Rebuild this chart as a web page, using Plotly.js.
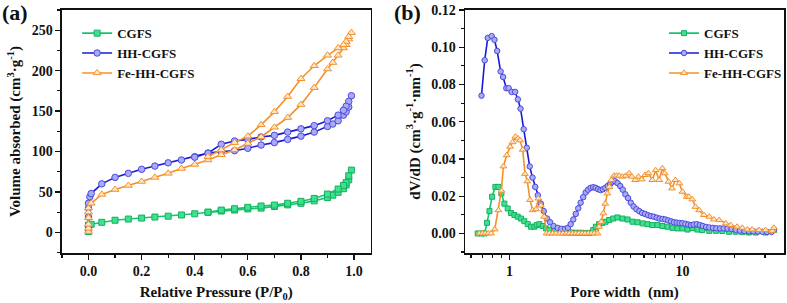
<!DOCTYPE html>
<html><head><meta charset="utf-8">
<script src="https://cdn.plot.ly/plotly-3.0.1.min.js"></script>
<style>html,body{margin:0;padding:0;background:#fff}#c{width:787px;height:303px}</style>
</head><body><div id="c"></div>
<script>
// ---- Panel (a): N2 isotherms (adsorption then desorption) ----
const cgfsP = [0,0,0,0,0.01,0.05,0.1,0.15,0.2,0.25,0.3,0.35,0.4,0.45,0.5,0.55,0.6,0.65,0.7,0.75,0.8,0.85,0.9,0.92,0.94,0.96,0.97,0.98,0.99,0.98,0.97,0.96,0.94,0.9,0.85,0.8,0.75,0.7,0.65,0.6,0.55,0.5,0.45];
const cgfsV = [1,4,7,9,10,12.4,15,16.5,17.7,19,20,21.5,23,24.8,26.4,27.6,29,30,32,34,36,39,43,46,49.5,54,58.6,65,77,70,61.5,58,53.6,47.4,42,38.4,36,33.8,32.6,31,29.3,27.6,25];
const hhP = [0,0,0,0,0.005,0.01,0.05,0.1,0.15,0.2,0.25,0.3,0.35,0.4,0.45,0.5,0.55,0.6,0.65,0.7,0.75,0.8,0.85,0.9,0.92,0.94,0.96,0.97,0.98,0.99,0.98,0.97,0.96,0.94,0.9,0.85,0.8,0.75,0.7,0.65,0.6,0.55,0.5,0.45,0.4];
const hhV = [7,19,30,36,44,48,60,68,73,78,82,86,89.5,93.6,98,100,101,104,108,111,115,119,124,131,134,138,145,149,155,169,162,156,151,145,138,132,128,124,120,118,115,113,109,98,93];
const feP = [0,0,0,0,0,0,0.01,0.05,0.1,0.15,0.2,0.25,0.3,0.35,0.4,0.45,0.5,0.55,0.6,0.65,0.7,0.75,0.8,0.85,0.9,0.92,0.94,0.96,0.97,0.98,0.99,0.98,0.97,0.96,0.94,0.9,0.85,0.8,0.75,0.7,0.65,0.6,0.55,0.5,0.45];
const feV = [1,5,10,18,25,30,36,47,53,58,63,68,73,79,84,89.5,96,102,110,118,130,142,158,179,202,210,219,228,232,239,247,242,236,232,228,219,206,190,168,149,133,119,111,102,93.6];

// ---- Panel (b): pore size distributions ----
const cgfsW = [0.656,0.69,0.718,0.743,0.767,0.794,0.83,0.864,0.899,0.936,0.978,1.022,1.069,1.117,1.168,1.22,1.276,1.334,1.394,1.44,1.49,1.56,1.63,1.70,1.82,1.94,2.05,2.17,2.29,2.42,2.56,2.7,2.9,3.05,3.16,3.3,3.45,3.6,3.77,3.98,4.21,4.5,4.82,5.15,5.5,5.9,6.28,6.7,7.17,7.66,8.19,8.76,9.36,10.0,10.7,11.4,12.2,13.0,14.3,15.6,17.0,18.6,20.3,22.2,24.2,26.5,30.2,33.8];
const cgfsD = [0,0,0,0.0057,0.012,0.0197,0.025,0.025,0.0215,0.016,0.0134,0.011,0.0099,0.009,0.008,0.0066,0.005,0.0036,0.0036,0.0045,0.005,0.004,0.0027,0.0018,0.0013,0.0009,0.0006,0.0005,0.0005,0.0004,0.0004,0.0003,0.0003,0.0018,0.0036,0.005,0.0057,0.0063,0.0072,0.008,0.0086,0.008,0.0075,0.0063,0.006,0.0054,0.005,0.0045,0.0045,0.004,0.0036,0.003,0.0027,0.0027,0.0021,0.0029,0.0021,0.0018,0.0014,0.0014,0.0013,0.0009,0.0009,0.0007,0.0005,0.0005,0.0005,0.0018];
const hhW = [0.69,0.72,0.75,0.79,0.82,0.85,0.89,0.92,0.96,0.99,1.03,1.08,1.12,1.16,1.21,1.26,1.31,1.36,1.41,1.46,1.52,1.58,1.65,1.72,1.80,1.90,2.0,2.1,2.18,2.26,2.34,2.42,2.5,2.58,2.67,2.76,2.85,2.95,3.05,3.15,3.25,3.36,3.47,3.58,3.7,3.82,3.95,4.08,4.22,4.37,4.52,4.68,4.85,5.03,5.22,5.42,5.63,5.85,6.08,6.32,6.57,6.83,7.1,7.38,7.67,7.97,8.28,8.6,8.93,9.27,9.62,9.98,10.4,10.8,11.2,11.6,12.1,12.6,13.1,13.7,14.3,15.0,15.7,16.5,17.3,18.2,19.2,20.3,21.5,22.8,24.2,25.7,27.3,29.0,30.8,32.7,33.8];
const hhD = [0.074,0.093,0.105,0.106,0.104,0.098,0.087,0.084,0.078,0.078,0.076,0.076,0.072,0.067,0.056,0.046,0.036,0.030,0.025,0.0205,0.016,0.012,0.008,0.006,0.004,0.003,0.0025,0.0025,0.003,0.005,0.0075,0.0105,0.0135,0.0165,0.0195,0.022,0.0235,0.0245,0.0248,0.0245,0.0238,0.0233,0.0237,0.0245,0.0255,0.0265,0.0278,0.028,0.027,0.0255,0.0235,0.021,0.019,0.0165,0.0145,0.013,0.012,0.011,0.0105,0.0098,0.0093,0.009,0.0085,0.008,0.0078,0.0075,0.007,0.0065,0.006,0.0058,0.0056,0.0055,0.0052,0.0048,0.0045,0.0048,0.005,0.0045,0.004,0.0035,0.0032,0.003,0.0028,0.0027,0.0027,0.0026,0.0024,0.002,0.0015,0.0013,0.0012,0.0011,0.001,0.0009,0.0008,0.0008,0.002];
const feW = [0.671,0.699,0.727,0.755,0.784,0.823,0.864,0.899,0.923,0.965,1.009,1.045,1.083,1.122,1.152,1.194,1.231,1.27,1.316,1.363,1.425,1.47,1.52,1.59,1.64,1.7,1.78,1.86,1.95,2.04,2.13,2.22,2.32,2.42,2.52,2.63,2.74,2.86,2.98,3.1,3.23,3.3,3.39,3.49,3.58,3.68,3.78,3.88,4.02,4.16,4.31,4.5,4.7,4.92,5.1,5.33,5.57,5.82,6.08,6.36,6.7,7.0,7.33,7.66,7.9,8.3,8.7,9.1,9.6,10.0,10.6,10.9,11.4,11.9,12.5,13.3,14.3,15.2,16.3,17.8,19.0,20.7,22.2,23.7,25.3,27.7,30.2,33.0,33.8];
const feD = [0,0,0,0,0,0.0022,0.0125,0.023,0.036,0.042,0.0466,0.049,0.052,0.051,0.050,0.045,0.032,0.028,0.018,0.0125,0.013,0.0188,0.015,0.009,0,0,0,0,0,0,0,0,0,0,0,0,0,0,0,0,0,0.0036,0.0063,0.0108,0.016,0.0215,0.025,0.0287,0.031,0.031,0.031,0.0305,0.031,0.0323,0.0305,0.0287,0.0305,0.029,0.0314,0.0323,0.0287,0.034,0.0287,0.035,0.0323,0.0278,0.0242,0.0287,0.0269,0.0224,0.0197,0.0197,0.0183,0.0143,0.0125,0.0099,0.009,0.0075,0.0072,0.0054,0.0045,0.0036,0.003,0.0021,0.0021,0.0018,0.0018,0.0014,0.003];

const names = ['CGFS','HH-CGFS','Fe-HH-CGFS'];
const F = 'Liberation Serif, Times New Roman, serif';
const green = {line:'#19c46e', fill:'#3fe08e', edge:'#14b062', sym:'square'};
const blue = {line:'#1a1ad6', fill:'#a9a9f4', edge:'#4a4ae0', sym:'circle'};
const orange = {line:'#f4902a', fill:'#fde6c8', edge:'#f4902a', sym:'triangle-up'};
const st = [green, blue, orange];

function tr(x, y, i, xa, ya, lg, sz) {
  const s = st[i];
  return {x:x, y:y, xaxis:xa, yaxis:ya, name:names[i], legend:lg, mode:'lines+markers', type:'scatter',
    line:{color:s.line, width:1.6},
    marker:{symbol:s.sym, size:sz, color:s.fill, line:{color:s.edge, width:1}}};
}
const data = [
  tr(cgfsP, cgfsV, 0, 'x', 'y', 'legend', 6),
  tr(hhP, hhV, 1, 'x', 'y', 'legend', 6.5),
  tr(feP, feV, 2, 'x', 'y', 'legend', 7),
  tr(cgfsW, cgfsD, 0, 'x2', 'y2', 'legend2', 5),
  tr(hhW, hhD, 1, 'x2', 'y2', 'legend2', 5.5),
  tr(feW, feD, 2, 'x2', 'y2', 'legend2', 6),
];
const ax = {showline:true, linecolor:'#111', linewidth:1.5, mirror:true, ticks:'outside', ticklen:5, tickwidth:1.3, tickcolor:'#111',
  showgrid:false, zeroline:false, tickfont:{family:F, size:14, color:'#111', weight:'bold'}};
const tf = {family:F, size:15, color:'#111', weight:'bold'};
const lgd = {font:{family:F, size:13, color:'#111', weight:'bold'}, bgcolor:'rgba(0,0,0,0)', tracegroupgap:0, itemwidth:30, yanchor:'top', xanchor:'left'};
const layout = {
  width:787, height:303, margin:{l:0,r:0,t:0,b:0}, paper_bgcolor:'#fff', plot_bgcolor:'#fff',
  xaxis: Object.assign({}, ax, {domain:[0.0788,0.4714], range:[-0.1,1.062], dtick:0.2, tickformat:'.1f', anchor:'y',
    minor:{dtick:0.1, ticklen:3, tickwidth:1.2, tickcolor:'#111'},
    title:{text:'Relative Pressure (P/P<sub>0</sub>)', font:tf, standoff:8}}),
  yaxis: Object.assign({}, ax, {domain:[0.165,0.967], range:[-25.5,275], dtick:50, anchor:'x',
    minor:{dtick:25, ticklen:3, tickwidth:1.2, tickcolor:'#111'},
    title:{text:'Volume absorbed (cm<sup>3</sup>·g<sup>-1</sup>)', font:tf, standoff:7}}),
  xaxis2: Object.assign({}, ax, {domain:[0.5917,0.9975], type:'log', range:[-0.256,1.587], anchor:'y2',
    tickvals:[1,10], ticktext:['1','10'],
    minor:{tickvals:[0.6,0.7,0.8,0.9,2,3,4,5,6,7,8,9,20,30], ticklen:3, tickwidth:1.2, tickcolor:'#111'},
    title:{text:'Pore width\u00a0 (nm)', font:tf, standoff:8}}),
  yaxis2: Object.assign({}, ax, {domain:[0.165,0.967], range:[-0.0105,0.12], dtick:0.02, tickformat:'.2f', anchor:'x2',
    minor:{dtick:0.01, ticklen:3, tickwidth:1.2, tickcolor:'#111'},
    title:{text:'dV/dD (cm<sup>3</sup>·g<sup>-1</sup>·nm<sup>-1</sup>)', font:tf, standoff:7}}),
  legend: Object.assign({}, lgd, {x:0.098, y:0.94}),
  legend2: Object.assign({}, lgd, {x:0.845, y:0.94}),
  annotations:[
    {text:'(a)', x:0, y:1.005, xref:'paper', yref:'paper', xanchor:'left', yanchor:'top', showarrow:false, font:{family:F, size:22, color:'#111', weight:'bold'}},
    {text:'(b)', x:0.499, y:1.005, xref:'paper', yref:'paper', xanchor:'left', yanchor:'top', showarrow:false, font:{family:F, size:22, color:'#111', weight:'bold'}}
  ]
};
Plotly.newPlot('c', data, layout, {displayModeBar:false, staticPlot:true});
</script></body></html>
